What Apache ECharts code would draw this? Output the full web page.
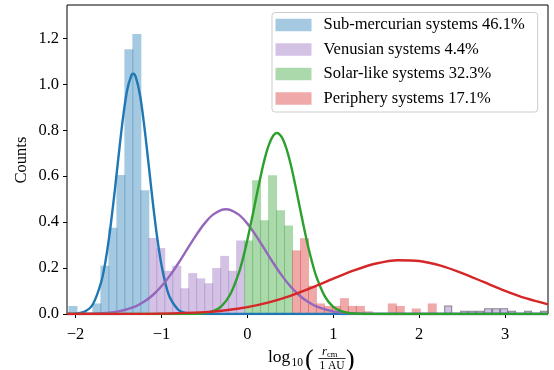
<!DOCTYPE html>
<html>
<head>
<meta charset="utf-8">
<script src="https://cdn.jsdelivr.net/npm/echarts@6/dist/echarts.min.js"></script>
<style>html,body{margin:0;padding:0;background:#fff}#c{width:554px;height:370px}</style>
</head>
<body>
<div id="c"></div>
<script>
// ---- histogram binning (common bins) ----
const binStart = -2.077;
const binWidth = 0.09295;

// ---- bar heights ----
const blueFirstBin = 0;
const blueHeights = [0.035, 0, 0, 0.046, 0.21, 0.375, 0.605, 1.152, 1.219, 0.539];
const purpleFirstBin = 10;
const purpleHeights = [0.331, 0.287, 0.188, 0.21, 0.112, 0.178, 0.155, 0.134, 0.2, 0.253, 0.188, 0.32];
const greenFirstBin = 22;
const greenHeights = [0.32, 0.582, 0.408, 0.604, 0.452, 0.385];
const redFirstBin = 28;
const redHeights = [0.277, 0.33, 0.123, 0.046, 0.035, 0.035, 0.069, 0.035, 0.035, 0.012, 0, 0, 0.046, 0.035, 0, 0.024, 0, 0.046];
const tailFirstBin = 46;
const tailHeights = [0, 0.035, 0, 0.012, 0.012, 0.012, 0.023, 0.023, 0.023, 0.012, 0, 0.012, 0, 0.012];

// ---- fitted curves ----
const blueCurve = [[-2.1,0.0002],[-2.0,0.0015],[-1.9,0.009],[-1.8,0.0415],[-1.7,0.1416],[-1.65,0.234],[-1.6,0.361],[-1.55,0.516],[-1.5,0.686],[-1.45,0.848],[-1.4,0.974],[-1.35,1.040],[-1.33,1.046],[-1.3,1.032],[-1.25,0.953],[-1.2,0.817],[-1.15,0.652],[-1.1,0.483],[-1.05,0.333],[-1.0,0.213],[-0.95,0.127],[-0.9,0.070],[-0.8,0.0173],[-0.7,0.0032],[-0.6,0.0004],[-0.4,0],[0,0],[1,0],[2,0],[3.5,0]];
const purpleCurve = [[-2.1,0.0001],[-1.9,0.0007],[-1.7,0.0032],[-1.5,0.0114],[-1.3,0.0337],[-1.2,0.054],[-1.1,0.0827],[-1.0,0.1207],[-0.9,0.168],[-0.8,0.2231],[-0.7,0.2826],[-0.6,0.3414],[-0.5,0.3934],[-0.4,0.4324],[-0.3,0.4533],[-0.25,0.456],[-0.2,0.4533],[-0.1,0.4324],[0.0,0.3934],[0.1,0.3414],[0.2,0.2826],[0.3,0.2231],[0.4,0.168],[0.5,0.1207],[0.6,0.0827],[0.7,0.054],[0.8,0.0337],[1.0,0.0114],[1.2,0.0032],[1.4,0.0007],[1.7,0.0001],[2.5,0],[3.5,0]];
const greenCurve = [[-2.1,0],[-1.0,0],[-0.8,0.0001],[-0.6,0.001],[-0.5,0.0037],[-0.4,0.0122],[-0.3,0.0346],[-0.2,0.0846],[-0.1,0.178],[-0.05,0.244],[0.0,0.322],[0.05,0.41],[0.1,0.502],[0.15,0.592],[0.2,0.673],[0.25,0.736],[0.3,0.776],[0.345,0.788],[0.4,0.770],[0.45,0.725],[0.5,0.658],[0.55,0.575],[0.6,0.483],[0.65,0.392],[0.7,0.306],[0.75,0.23],[0.8,0.166],[0.9,0.078],[1.0,0.031],[1.1,0.011],[1.2,0.003],[1.4,0.0002],[2.0,0],[3.5,0]];
const redCurve = [[-2.1,0],[-1.5,0.0003],[-1.0,0.0017],[-0.5,0.0082],[-0.25,0.0163],[0.0,0.0298],[0.25,0.0503],[0.5,0.0788],[0.75,0.1144],[1.0,0.1536],[1.25,0.1909],[1.5,0.2197],[1.75,0.2341],[2.0,0.2308],[2.25,0.2107],[2.5,0.1781],[2.75,0.1394],[3.0,0.101],[3.25,0.0677],[3.5,0.042]];

// ---- labels ----
const seriesNames = ['Sub-mercurian systems 46.1%', 'Venusian systems 4.4%', 'Solar-like systems 32.3%', 'Periphery systems 17.1%'];
const xTickValues = [-2, -1, 0, 1, 2, 3];
const xTickLabels = ['\u22122', '\u22121', '0', '1', '2', '3'];
const yTickValues = [0, 0.2, 0.4, 0.6, 0.8, 1.0, 1.2];
const yTickLabels = ['0.0', '0.2', '0.4', '0.6', '0.8', '1.0', '1.2'];

const FONT = '"Liberation Serif", "Times New Roman", serif';
const colors = ['#1f77b4', '#9467bd', '#2ca02c', '#d62728'];
function rgba(hex, a) {
  const n = parseInt(hex.slice(1), 16);
  return 'rgba(' + (n >> 16 & 255) + ',' + (n >> 8 & 255) + ',' + (n & 255) + ',' + a + ')';
}

function binData(firstBin, heights) {
  const out = [];
  heights.forEach((h, i) => {
    if (h > 0) {
      const k = firstBin + i;
      out.push([binStart + k * binWidth, binStart + (k + 1) * binWidth, h]);
    }
  });
  return out;
}

function barSeries(name, firstBin, heights, fill, stroke) {
  return {
    type: 'custom', name: name, z: 2, clip: true,
    itemStyle: { color: fill },
    data: binData(firstBin, heights),
    renderItem: function (params, api) {
      const p0 = api.coord([api.value(0), api.value(2)]);
      const p1 = api.coord([api.value(1), 0]);
      const style = { fill: fill };
      let inset = -0.5;
      if (stroke) { style.stroke = stroke; style.lineWidth = 1.1; inset = 0.5; }
      return {
        type: 'rect',
        shape: { x: p0[0] + inset, y: p0[1], width: p1[0] - p0[0] - 2 * inset, height: p1[1] - p0[1] },
        style: style
      };
    }
  };
}

function curveSeries(data, color) {
  return {
    type: 'line', data: data, showSymbol: false, smooth: 0.3, z: 5, silent: true,
    lineStyle: { color: color, width: 2.4 }, itemStyle: { color: color }
  };
}

const chart = echarts.init(document.getElementById('c'), null, { renderer: 'canvas' });

const labelMap = (vals, labs) => v => {
  for (let i = 0; i < vals.length; i++) if (Math.abs(vals[i] - v) < 1e-6) return labs[i];
  return '';
};

chart.setOption({
  animation: false,
  backgroundColor: '#ffffff',
  grid: { left: 67, right: 6, top: 5, bottom: 56, show: true, borderColor: '#000', borderWidth: 1, backgroundColor: 'transparent' },
  xAxis: {
    type: 'value', min: -2.1, max: 3.5,
    splitLine: { show: false },
    axisLine: { show: false, onZero: false },
    axisTick: { show: true, inside: false, length: 4, lineStyle: { color: '#000', width: 1 }, customValues: xTickValues },
    axisLabel: { customValues: xTickValues, formatter: labelMap(xTickValues, xTickLabels), margin: 12, color: '#000', fontFamily: FONT, fontSize: 16.5 }
  },
  yAxis: {
    type: 'value', min: 0, max: 1.345,
    splitLine: { show: false },
    axisLine: { show: false, onZero: false },
    axisTick: { show: true, inside: false, length: 4, lineStyle: { color: '#000', width: 1 }, customValues: yTickValues },
    axisLabel: { customValues: yTickValues, formatter: labelMap(yTickValues, yTickLabels), margin: 8, color: '#000', fontFamily: FONT, fontSize: 16.5 }
  },
  legend: {
    orient: 'vertical', left: 272, top: 12.5,
    padding: [4, 13, 5, 3.5],
    itemWidth: 36, itemHeight: 12.5, itemGap: 7.5,
    selectedMode: false,
    backgroundColor: 'rgba(255,255,255,0.8)', borderColor: '#cccccc', borderWidth: 1, borderRadius: 3,
    textStyle: { fontFamily: FONT, fontSize: 16.5, color: '#000', padding: [0, 0, 0, 7] },
    icon: 'rect',
    data: seriesNames.map((n, i) => ({ name: n, itemStyle: { color: rgba(colors[i], 0.4), borderWidth: 0 } }))
  },
  graphic: [
    { type: 'text', x: 22, y: 160, rotation: Math.PI / 2, style: { text: 'Counts', font: '16.5px ' + FONT, fill: '#000', align: 'center', verticalAlign: 'middle' } },
    { type: 'text', x: 268, y: 357.5, style: { text: 'log', font: '17.5px ' + FONT, fill: '#000', align: 'left', verticalAlign: 'middle' } },
    { type: 'text', x: 291.5, y: 363, style: { text: '10', font: '11.5px ' + FONT, fill: '#000', align: 'left', verticalAlign: 'middle' } },
    { type: 'text', x: 305, y: 360, style: { text: '(', font: '26px ' + FONT, fill: '#000', align: 'left', verticalAlign: 'middle' } },
    { type: 'text', x: 322, y: 352, style: { text: 'r', font: 'italic 12.5px ' + FONT, fill: '#000', align: 'left', verticalAlign: 'middle' } },
    { type: 'text', x: 327, y: 355, style: { text: 'cm', font: '8.5px ' + FONT, fill: '#000', align: 'left', verticalAlign: 'middle' } },
    { type: 'line', shape: { x1: 318.5, y1: 358.5, x2: 345.5, y2: 358.5 }, style: { stroke: '#000', lineWidth: 0.8 } },
    { type: 'text', x: 332, y: 365.5, style: { text: '1 AU', font: '11.5px ' + FONT, fill: '#000', align: 'center', verticalAlign: 'middle' } },
    { type: 'text', x: 346, y: 360, style: { text: ')', font: '26px ' + FONT, fill: '#000', align: 'left', verticalAlign: 'middle' } }
  ],
  series: [
    barSeries(seriesNames[0], blueFirstBin, blueHeights, rgba(colors[0], 0.4)),
    barSeries(seriesNames[1], purpleFirstBin, purpleHeights, rgba(colors[1], 0.4)),
    barSeries(seriesNames[2], greenFirstBin, greenHeights, rgba(colors[2], 0.4)),
    barSeries(seriesNames[3], redFirstBin, redHeights, rgba(colors[3], 0.4)),
    barSeries('tail', tailFirstBin, tailHeights, rgba(colors[1], 0.4), 'rgba(110,110,120,0.8)'),
    curveSeries(blueCurve, colors[0]),
    curveSeries(purpleCurve, colors[1]),
    curveSeries(greenCurve, colors[2]),
    curveSeries(redCurve, colors[3])
  ]
});
</script>
</body>
</html>
